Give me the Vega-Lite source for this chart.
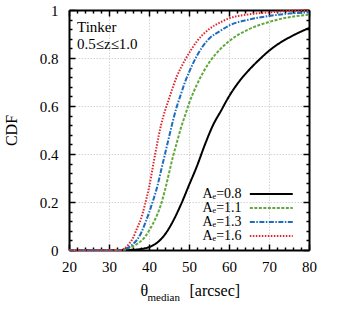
{
  "$schema": "https://vega.github.io/schema/vega-lite/v6.json",
  "width": 240,
  "height": 240,
  "autosize": {"type": "none"},
  "padding": {"left": 69, "top": 10, "right": 44, "bottom": 64},
  "background": "white",
  "config": {
    "font": "Liberation Serif",
    "view": {"stroke": null},
    "axis": {
      "domainColor": "black",
      "domainWidth": 2,
      "tickColor": "black",
      "tickWidth": 1.5,
      "labelFontSize": 15,
      "labelColor": "black",
      "titleColor": "black",
      "titleFontSize": 16,
      "titleFontWeight": "normal",
      "gridDash": [1.5, 1.5],
      "gridWidth": 1
    }
  },
  "title": {
    "text": "Tinker",
    "subtitle": "0.5≤z≤1.0",
    "anchor": "start",
    "frame": "group",
    "orient": "top",
    "offset": -49,
    "dx": 8,
    "fontSize": 15,
    "fontWeight": "normal",
    "subtitleFontSize": 15,
    "subtitleColor": "black",
    "color": "black",
    "subtitlePadding": 2
  },
  "data": {
    "values": [
      {"s": "0.8", "t": 20, "c": 0}, {"s": "0.8", "t": 30, "c": 0}, {"s": "0.8", "t": 34, "c": 0}, {"s": "0.8", "t": 36, "c": 0.001}, {"s": "0.8", "t": 38, "c": 0.004}, {"s": "0.8", "t": 40, "c": 0.012}, {"s": "0.8", "t": 42, "c": 0.03}, {"s": "0.8", "t": 44, "c": 0.065}, {"s": "0.8", "t": 46, "c": 0.12}, {"s": "0.8", "t": 48, "c": 0.19}, {"s": "0.8", "t": 50, "c": 0.27}, {"s": "0.8", "t": 52, "c": 0.35}, {"s": "0.8", "t": 54, "c": 0.44}, {"s": "0.8", "t": 56, "c": 0.52}, {"s": "0.8", "t": 58, "c": 0.58}, {"s": "0.8", "t": 60, "c": 0.64}, {"s": "0.8", "t": 62, "c": 0.69}, {"s": "0.8", "t": 65, "c": 0.75}, {"s": "0.8", "t": 68, "c": 0.8}, {"s": "0.8", "t": 70, "c": 0.83}, {"s": "0.8", "t": 72, "c": 0.855}, {"s": "0.8", "t": 75, "c": 0.885}, {"s": "0.8", "t": 78, "c": 0.91}, {"s": "0.8", "t": 80, "c": 0.925},
      {"s": "1.1", "t": 20, "c": 0}, {"s": "1.1", "t": 30, "c": 0}, {"s": "1.1", "t": 33, "c": 0}, {"s": "1.1", "t": 34, "c": 0.002}, {"s": "1.1", "t": 35, "c": 0.008}, {"s": "1.1", "t": 36, "c": 0.015}, {"s": "1.1", "t": 37, "c": 0.025}, {"s": "1.1", "t": 38, "c": 0.037}, {"s": "1.1", "t": 39, "c": 0.055}, {"s": "1.1", "t": 40, "c": 0.08}, {"s": "1.1", "t": 41, "c": 0.11}, {"s": "1.1", "t": 42, "c": 0.145}, {"s": "1.1", "t": 43, "c": 0.19}, {"s": "1.1", "t": 44, "c": 0.25}, {"s": "1.1", "t": 45, "c": 0.32}, {"s": "1.1", "t": 46, "c": 0.39}, {"s": "1.1", "t": 47, "c": 0.45}, {"s": "1.1", "t": 48, "c": 0.51}, {"s": "1.1", "t": 49, "c": 0.56}, {"s": "1.1", "t": 50, "c": 0.61}, {"s": "1.1", "t": 52, "c": 0.69}, {"s": "1.1", "t": 55, "c": 0.78}, {"s": "1.1", "t": 58, "c": 0.84}, {"s": "1.1", "t": 60, "c": 0.87}, {"s": "1.1", "t": 65, "c": 0.92}, {"s": "1.1", "t": 70, "c": 0.95}, {"s": "1.1", "t": 75, "c": 0.97}, {"s": "1.1", "t": 80, "c": 0.98},
      {"s": "1.3", "t": 20, "c": 0}, {"s": "1.3", "t": 30, "c": 0}, {"s": "1.3", "t": 33, "c": 0}, {"s": "1.3", "t": 34, "c": 0.004}, {"s": "1.3", "t": 35, "c": 0.012}, {"s": "1.3", "t": 36, "c": 0.025}, {"s": "1.3", "t": 37, "c": 0.042}, {"s": "1.3", "t": 38, "c": 0.07}, {"s": "1.3", "t": 39, "c": 0.11}, {"s": "1.3", "t": 40, "c": 0.155}, {"s": "1.3", "t": 41, "c": 0.205}, {"s": "1.3", "t": 42, "c": 0.26}, {"s": "1.3", "t": 43, "c": 0.33}, {"s": "1.3", "t": 44, "c": 0.4}, {"s": "1.3", "t": 45, "c": 0.47}, {"s": "1.3", "t": 46, "c": 0.54}, {"s": "1.3", "t": 47, "c": 0.6}, {"s": "1.3", "t": 48, "c": 0.65}, {"s": "1.3", "t": 49, "c": 0.7}, {"s": "1.3", "t": 50, "c": 0.74}, {"s": "1.3", "t": 52, "c": 0.81}, {"s": "1.3", "t": 55, "c": 0.88}, {"s": "1.3", "t": 58, "c": 0.915}, {"s": "1.3", "t": 60, "c": 0.935}, {"s": "1.3", "t": 65, "c": 0.96}, {"s": "1.3", "t": 70, "c": 0.975}, {"s": "1.3", "t": 75, "c": 0.985}, {"s": "1.3", "t": 80, "c": 0.99},
      {"s": "1.6", "t": 20, "c": 0}, {"s": "1.6", "t": 30, "c": 0}, {"s": "1.6", "t": 33, "c": 0}, {"s": "1.6", "t": 34, "c": 0.008}, {"s": "1.6", "t": 35, "c": 0.025}, {"s": "1.6", "t": 36, "c": 0.05}, {"s": "1.6", "t": 37, "c": 0.09}, {"s": "1.6", "t": 38, "c": 0.13}, {"s": "1.6", "t": 39, "c": 0.19}, {"s": "1.6", "t": 40, "c": 0.26}, {"s": "1.6", "t": 41, "c": 0.35}, {"s": "1.6", "t": 42, "c": 0.44}, {"s": "1.6", "t": 43, "c": 0.52}, {"s": "1.6", "t": 44, "c": 0.58}, {"s": "1.6", "t": 45, "c": 0.63}, {"s": "1.6", "t": 46, "c": 0.68}, {"s": "1.6", "t": 47, "c": 0.725}, {"s": "1.6", "t": 48, "c": 0.76}, {"s": "1.6", "t": 50, "c": 0.82}, {"s": "1.6", "t": 52, "c": 0.87}, {"s": "1.6", "t": 55, "c": 0.92}, {"s": "1.6", "t": 58, "c": 0.95}, {"s": "1.6", "t": 60, "c": 0.965}, {"s": "1.6", "t": 65, "c": 0.982}, {"s": "1.6", "t": 70, "c": 0.99}, {"s": "1.6", "t": 75, "c": 0.996}, {"s": "1.6", "t": 80, "c": 1.0}
    ]
  },
  "layer": [
    {
      "mark": {"type": "line", "strokeWidth": 2, "interpolate": "monotone"},
      "encoding": {
        "x": {
          "field": "t", "type": "quantitative",
          "scale": {"domain": [20, 80], "nice": false, "zero": false},
          "axis": {
            "orient": "bottom",
            "values": [20, 22, 24, 26, 28, 30, 32, 34, 36, 38, 40, 42, 44, 46, 48, 50, 52, 54, 56, 58, 60, 62, 64, 66, 68, 70, 72, 74, 76, 78, 80],
            "labelExpr": "datum.value % 10 === 0 ? datum.label : ''",
            "tickSize": {"condition": {"test": "datum.value % 10 === 0", "value": -6}, "value": -3},
            "grid": true,
            "gridColor": {"condition": {"test": "datum.value % 10 === 0", "value": "#d4d4d4"}, "value": "transparent"},
            "labelPadding": 15,
            "labelFlush": false,
            "labelOverlap": false,
            "title": "θ",
            "titleX": 71,
            "titleY": 45,
            "titleAlign": "left",
            "titleBaseline": "alphabetic",
            "titleAnchor": null
          }
        },
        "y": {
          "field": "c", "type": "quantitative",
          "scale": {"domain": [0, 1], "nice": false},
          "axis": {
            "orient": "left",
            "values": [0, 0.04, 0.08, 0.12, 0.16, 0.2, 0.24, 0.28, 0.32, 0.36, 0.4, 0.44, 0.48, 0.52, 0.56, 0.6, 0.64, 0.68, 0.72, 0.76, 0.8, 0.84, 0.88, 0.92, 0.96, 1],
            "labelExpr": "abs(datum.value*5 - round(datum.value*5)) < 0.001 ? format(datum.value, '~g') : ''",
            "tickSize": {"condition": {"test": "abs(datum.value*5 - round(datum.value*5)) < 0.001", "value": -6}, "value": -3},
            "grid": true,
            "gridColor": {"condition": {"test": "abs(datum.value*5 - round(datum.value*5)) < 0.001", "value": "#d4d4d4"}, "value": "transparent"},
            "labelPadding": 17,
            "labelFlush": false,
            "labelOverlap": false,
            "title": "CDF",
            "titlePadding": 20
          }
        },
        "color": {
          "field": "s", "type": "nominal",
          "scale": {"domain": ["0.8", "1.1", "1.3", "1.6"], "range": ["#000000", "#62a83e", "#1c6cc0", "#e0242b"]},
          "legend": {
            "orient": "none",
            "legendX": 195.3,
            "legendY": 177,
            "title": null,
            "symbolType": "M-4.13,0H4.13",
            "symbolSize": 108,
            "symbolStrokeWidth": 2,
            "labelFontSize": 14,
            "labelColor": "black",
            "labelAlign": "right",
            "labelOffset": -36.7,
            "rowPadding": -2,
            "labelExpr": "'Aₑ=' + datum.label"
          }
        },
        "strokeDash": {
          "field": "s", "type": "nominal",
          "scale": {"domain": ["0.8", "1.1", "1.3", "1.6"], "range": [[1, 0], [3, 1.5], [5, 1.5, 1.5, 1.5], [1.5, 1.5]]},
          "legend": {
            "orient": "none",
            "legendX": 195.3,
            "legendY": 177,
            "title": null,
            "symbolType": "M-4.13,0H4.13",
            "symbolSize": 108,
            "symbolStrokeWidth": 2,
            "labelFontSize": 14,
            "labelColor": "black",
            "labelAlign": "right",
            "labelOffset": -36.7,
            "rowPadding": -2,
            "labelExpr": "'Aₑ=' + datum.label"
          }
        }
      }
    },
    {
      "mark": {"type": "point", "opacity": 0},
      "encoding": {
        "x": {
          "field": "t", "type": "quantitative",
          "scale": {"domain": [20, 80], "nice": false, "zero": false},
          "axis": {
            "orient": "top",
            "values": [20, 22, 24, 26, 28, 30, 32, 34, 36, 38, 40, 42, 44, 46, 48, 50, 52, 54, 56, 58, 60, 62, 64, 66, 68, 70, 72, 74, 76, 78, 80],
            "labels": false,
            "grid": false,
            "tickSize": {"condition": {"test": "datum.value % 10 === 0", "value": -6}, "value": -3},
            "title": "median",
            "titleFontSize": 11,
            "titleX": 78,
            "titleY": 290,
            "titleAlign": "left",
            "titleBaseline": "alphabetic",
            "titleAnchor": null
          }
        },
        "y": {
          "field": "c", "type": "quantitative",
          "scale": {"domain": [0, 1], "nice": false},
          "axis": {
            "orient": "right",
            "values": [0, 0.04, 0.08, 0.12, 0.16, 0.2, 0.24, 0.28, 0.32, 0.36, 0.4, 0.44, 0.48, 0.52, 0.56, 0.6, 0.64, 0.68, 0.72, 0.76, 0.8, 0.84, 0.88, 0.92, 0.96, 1],
            "labels": false,
            "grid": false,
            "tickSize": {"condition": {"test": "abs(datum.value*5 - round(datum.value*5)) < 0.001", "value": -6}, "value": -3},
            "title": "[arcsec]",
            "titleAngle": 0,
            "titleX": -120,
            "titleY": 285,
            "titleAlign": "left",
            "titleBaseline": "alphabetic",
            "titleAnchor": null
          }
        }
      }
    }
  ]
}
